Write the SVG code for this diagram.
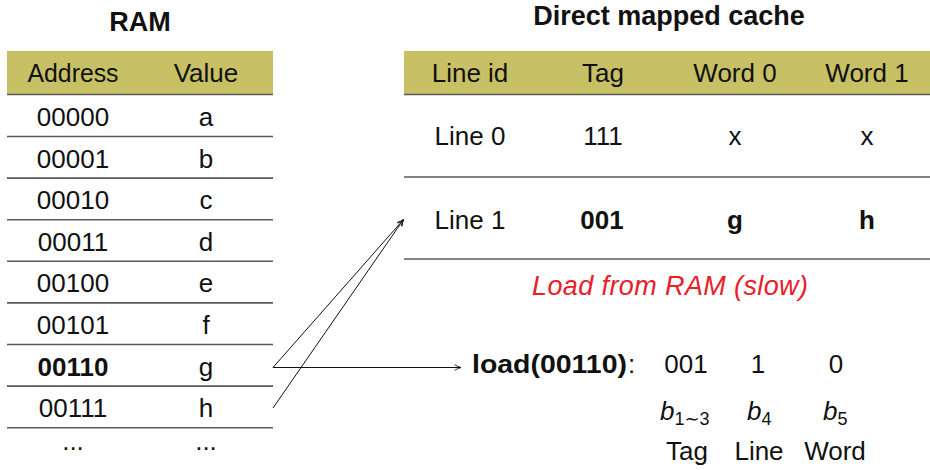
<svg xmlns="http://www.w3.org/2000/svg" width="930" height="470" viewBox="0 0 930 470">
<style>
text{font-family:"Liberation Sans","DejaVu Sans",sans-serif;fill:#111;}
.t{font-size:26px;text-anchor:middle;}
.b{font-weight:bold;}
.title{font-size:27px;font-weight:bold;text-anchor:middle;}
.hdr{fill:#c8c064;}
.rule{stroke:#5a5a5a;stroke-width:1.6;}
.conn{stroke:#111;stroke-width:1;fill:none;}
.red{fill:#e8202a;font-style:italic;font-size:27px;text-anchor:middle;}
.it{font-style:italic;}
</style>
<defs>
<marker id="ar" viewBox="0 0 10 10" refX="9" refY="5" markerWidth="8" markerHeight="8" markerUnits="userSpaceOnUse" orient="auto">
<path d="M1,1.5 Q5,4 9,5 Q5,6 1,8.5" fill="none" stroke="#111" stroke-width="1.1"/>
</marker>
</defs>

<g id="ram">
<text class="title" x="140" y="31">RAM</text>
<rect class="hdr" x="7" y="51" width="266" height="43"/>
<line class="rule" x1="7" y1="94.5" x2="273" y2="94.5"/>
<text class="t" x="73" y="82" textLength="91" lengthAdjust="spacingAndGlyphs">Address</text>
<text class="t" x="206" y="82">Value</text>
<g id="ram-rows">
<text class="t" x="73" y="126">00000</text><text class="t" x="206" y="126">a</text>
<line class="rule" x1="7" y1="136.5" x2="273" y2="136.5"/>
<text class="t" x="73" y="167.6">00001</text><text class="t" x="206" y="167.6">b</text>
<line class="rule" x1="7" y1="178.1" x2="273" y2="178.1"/>
<text class="t" x="73" y="209.2">00010</text><text class="t" x="206" y="209.2">c</text>
<line class="rule" x1="7" y1="219.7" x2="273" y2="219.7"/>
<text class="t" x="73" y="250.8">00011</text><text class="t" x="206" y="250.8">d</text>
<line class="rule" x1="7" y1="261.3" x2="273" y2="261.3"/>
<text class="t" x="73" y="292.4">00100</text><text class="t" x="206" y="292.4">e</text>
<line class="rule" x1="7" y1="302.9" x2="273" y2="302.9"/>
<text class="t" x="73" y="334">00101</text><text class="t" x="206" y="334">f</text>
<line class="rule" x1="7" y1="344.5" x2="273" y2="344.5"/>
<text class="t b" x="73" y="375.6">00110</text><text class="t" x="206" y="375.6">g</text>
<line class="rule" x1="7" y1="386.1" x2="273" y2="386.1"/>
<text class="t" x="73" y="417.2">00111</text><text class="t" x="206" y="417.2">h</text>
<line class="rule" x1="7" y1="427.7" x2="273" y2="427.7"/>
<text class="t" x="73" y="450">...</text><text class="t" x="206" y="450">...</text>
</g>
</g>

<g id="cache">
<text class="title" x="669" y="25">Direct mapped cache</text>
<rect class="hdr" x="404" y="51" width="526" height="43"/>
<line class="rule" x1="404" y1="94.5" x2="930" y2="94.5"/>
<text class="t" x="470" y="82">Line id</text>
<text class="t" x="603" y="82">Tag</text>
<text class="t" x="735" y="82">Word 0</text>
<text class="t" x="867" y="82">Word 1</text>
<text class="t" x="470" y="145">Line 0</text>
<text class="t" x="603" y="145">111</text>
<text class="t" x="735" y="145">x</text>
<text class="t" x="867" y="145">x</text>
<line class="rule" x1="404" y1="177" x2="930" y2="177"/>
<text class="t" x="470" y="229">Line 1</text>
<text class="t b" x="602" y="229">001</text>
<text class="t b" x="735" y="229">g</text>
<text class="t b" x="867" y="229">h</text>
<line class="rule" x1="404" y1="259" x2="930" y2="259"/>
</g>

<g id="load-note">
<text class="red" x="670" y="295" textLength="276" lengthAdjust="spacing">Load from RAM (slow)</text>
</g>

<g id="address-split">
<text x="472" y="373" style="font-size:26px;font-weight:bold" textLength="155" lengthAdjust="spacingAndGlyphs">load(00110)</text>
<text x="628" y="373" style="font-size:26px">:</text>
<text class="t" x="686" y="373">001</text>
<text class="t" x="758" y="373">1</text>
<text class="t" x="836" y="373">0</text>
<text x="660" y="420" class="it" style="font-size:26px">b<tspan dy="5" style="font-size:18px;font-style:normal">1∼3</tspan></text>
<text x="747" y="420" class="it" style="font-size:26px">b<tspan dy="5" style="font-size:18px;font-style:normal">4</tspan></text>
<text x="823" y="420" class="it" style="font-size:26px">b<tspan dy="5" style="font-size:18px;font-style:normal">5</tspan></text>
<text class="t" x="687" y="460">Tag</text>
<text class="t" x="759" y="460">Line</text>
<text class="t" x="835" y="460">Word</text>
</g>

<g id="connectors">
<path class="conn" d="M273,367.5 L403.5,219.5" marker-end="url(#ar)"/>
<path class="conn" d="M273,408 L403.5,219.5" marker-end="url(#ar)"/>
<path class="conn" d="M273,367.5 L461,367.5" marker-end="url(#ar)"/>
</g>
</svg>
